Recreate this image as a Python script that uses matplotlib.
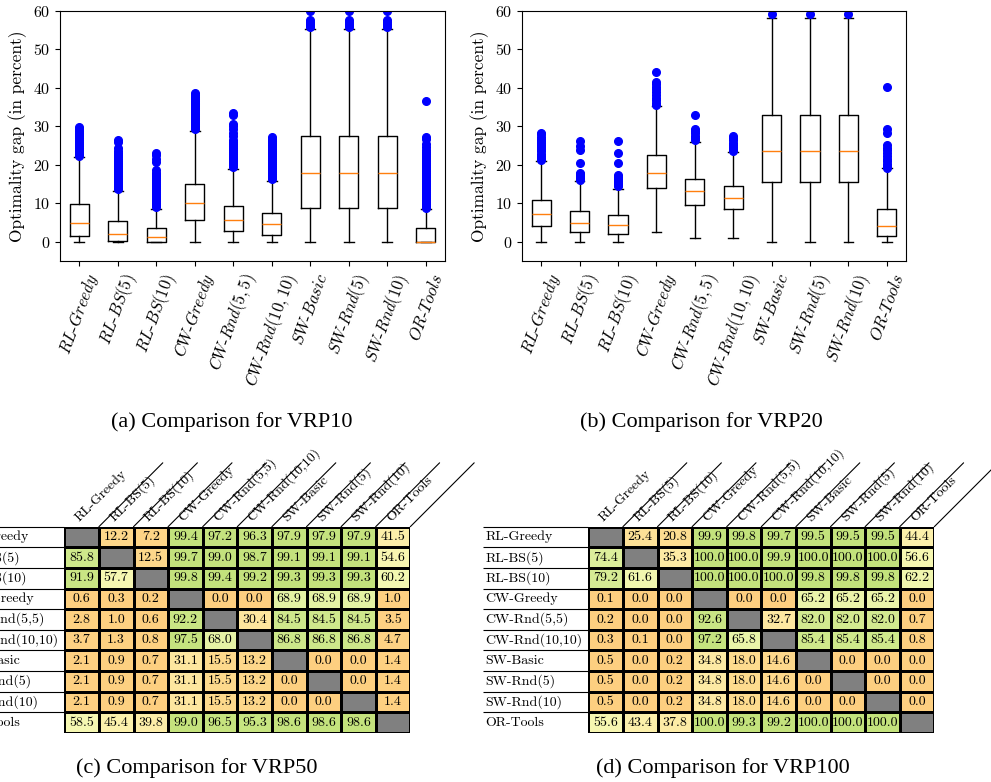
import numpy as np
import matplotlib.pyplot as plt
from matplotlib.colors import LinearSegmentedColormap

plt.rcParams['font.family'] = 'cmr10'
plt.rcParams['mathtext.fontset'] = 'cm'
plt.rcParams['axes.formatter.use_mathtext'] = True
plt.rcParams['axes.unicode_minus'] = False

methods = ['RL-Greedy', 'RL-BS(5)', 'RL-BS(10)', 'CW-Greedy', 'CW-Rnd(5,5)',
           'CW-Rnd(10,10)', 'SW-Basic', 'SW-Rnd(5)', 'SW-Rnd(10)', 'OR-Tools']

# box statistics for VRP10
vrp10_q1 = [1.4, 0.3, 0.05, 5.7, 2.9, 1.8, 8.8, 8.8, 8.8, 0.0]
vrp10_med = [4.9, 2.1, 1.3, 10.0, 5.6, 4.5, 17.9, 17.9, 17.9, 0.0]
vrp10_q3 = [9.8, 5.5, 3.7, 15.0, 9.4, 7.6, 27.6, 27.6, 27.6, 3.5]
vrp10_lo = [0.0, 0.0, 0.0, 0.0, 0.0, 0.0, 0.0, 0.0, 0.0, 0.0]
vrp10_hi = [22.0, 13.1, 8.5, 28.8, 18.9, 15.9, 55.4, 55.4, 55.4, 8.5]
sw10_out = [55.8, 56.2, 56.7, 57.2, 57.6, 60.0, 61.5, 64.0]
vrp10_out = [
    [22.4, 22.9, 23.4, 23.9, 24.4, 24.9, 25.4, 25.9, 26.4, 26.9, 27.4, 27.9, 28.4, 28.9, 29.4, 29.9],
    [13.6, 14.1, 14.6, 15.1, 15.6, 16.1, 16.6, 17.1, 17.6, 18.1, 18.6, 19.1, 19.6, 20.1, 20.6,
     21.1, 21.6, 22.1, 22.6, 23.1, 23.6, 24.4, 25.9, 26.4],
    [9.0, 9.5, 10.0, 10.5, 11.0, 11.5, 12.0, 12.5, 13.0, 13.5, 14.0, 14.5, 15.0, 15.5, 16.0,
     16.5, 17.0, 17.5, 18.0, 18.6, 20.8, 21.4, 22.6, 23.2],
    [29.2, 29.7, 30.2, 30.7, 31.2, 31.7, 32.2, 32.7, 33.2, 33.7, 34.2, 34.7, 35.2, 35.7, 36.2,
     36.7, 37.2, 37.7, 38.2, 38.7],
    [19.4, 19.9, 20.4, 20.9, 21.4, 21.9, 22.4, 22.9, 23.4, 23.9, 24.4, 24.9, 25.4, 25.9, 26.5,
     27.5, 28.2, 29.2, 30.0, 30.5, 33.0, 33.6],
    [16.2, 16.7, 17.2, 17.7, 18.2, 18.7, 19.2, 19.7, 20.2, 20.7, 21.2, 21.7, 22.2, 22.7, 23.2,
     23.7, 24.2, 24.7, 25.2, 25.7, 26.2, 26.7, 27.2],
    sw10_out, sw10_out, sw10_out,
    [8.9, 9.4, 9.9, 10.4, 10.9, 11.4, 11.9, 12.4, 12.9, 13.4, 13.9, 14.4, 14.9, 15.4, 15.9,
     16.4, 16.9, 17.4, 17.9, 18.4, 18.9, 19.4, 19.9, 20.4, 20.9, 21.4, 21.9, 22.4, 22.9, 23.4,
     23.9, 24.6, 25.3, 26.8, 27.3, 36.6],
]

# box statistics for VRP20
vrp20_q1 = [4.2, 2.6, 2.0, 14.0, 9.6, 8.5, 15.6, 15.6, 15.6, 1.4]
vrp20_med = [7.2, 5.0, 4.3, 18.0, 13.1, 11.5, 23.6, 23.6, 23.6, 4.2]
vrp20_q3 = [10.9, 7.9, 6.9, 22.6, 16.2, 14.6, 32.9, 32.9, 32.9, 8.4]
vrp20_lo = [0.0, 0.0, 0.0, 2.6, 0.9, 1.1, 0.0, 0.0, 0.0, 0.0]
vrp20_hi = [20.9, 15.9, 13.7, 35.4, 26.0, 23.3, 58.2, 58.2, 58.2, 19.1]
sw20_out = [59.3, 61.0, 65.0]
vrp20_out = [
    [21.3, 21.8, 22.4, 22.9, 23.5, 24.0, 24.6, 25.1, 25.7, 26.2, 26.8, 27.3, 27.9, 28.3],
    [16.1, 16.6, 17.1, 17.6, 18.0, 20.5, 23.8, 24.9, 26.2],
    [14.4, 14.8, 15.3, 15.8, 16.3, 16.8, 17.3, 20.5, 23.0, 26.3],
    [35.6, 36.2, 36.8, 37.5, 38.2, 38.9, 39.6, 40.3, 41.0, 41.6, 44.1],
    [26.4, 27.0, 27.6, 28.2, 28.8, 29.3, 32.9],
    [23.6, 24.1, 24.6, 25.1, 25.8, 26.4, 27.0, 27.6],
    sw20_out, sw20_out, sw20_out,
    [19.3, 19.8, 20.3, 20.9, 21.5, 22.2, 23.0, 23.8, 24.5, 25.1, 28.4, 29.2, 40.3],
]

nan = np.nan
# pairwise comparison tables (percent), row method vs column method
vrp50_table = [
    [nan, 12.2, 7.2, 99.4, 97.2, 96.3, 97.9, 97.9, 97.9, 41.5],
    [85.8, nan, 12.5, 99.7, 99.0, 98.7, 99.1, 99.1, 99.1, 54.6],
    [91.9, 57.7, nan, 99.8, 99.4, 99.2, 99.3, 99.3, 99.3, 60.2],
    [0.6, 0.3, 0.2, nan, 0.0, 0.0, 68.9, 68.9, 68.9, 1.0],
    [2.8, 1.0, 0.6, 92.2, nan, 30.4, 84.5, 84.5, 84.5, 3.5],
    [3.7, 1.3, 0.8, 97.5, 68.0, nan, 86.8, 86.8, 86.8, 4.7],
    [2.1, 0.9, 0.7, 31.1, 15.5, 13.2, nan, 0.0, 0.0, 1.4],
    [2.1, 0.9, 0.7, 31.1, 15.5, 13.2, 0.0, nan, 0.0, 1.4],
    [2.1, 0.9, 0.7, 31.1, 15.5, 13.2, 0.0, 0.0, nan, 1.4],
    [58.5, 45.4, 39.8, 99.0, 96.5, 95.3, 98.6, 98.6, 98.6, nan],
]
vrp100_table = [
    [nan, 25.4, 20.8, 99.9, 99.8, 99.7, 99.5, 99.5, 99.5, 44.4],
    [74.4, nan, 35.3, 100.0, 100.0, 99.9, 100.0, 100.0, 100.0, 56.6],
    [79.2, 61.6, nan, 100.0, 100.0, 100.0, 99.8, 99.8, 99.8, 62.2],
    [0.1, 0.0, 0.0, nan, 0.0, 0.0, 65.2, 65.2, 65.2, 0.0],
    [0.2, 0.0, 0.0, 92.6, nan, 32.7, 82.0, 82.0, 82.0, 0.7],
    [0.3, 0.1, 0.0, 97.2, 65.8, nan, 85.4, 85.4, 85.4, 0.8],
    [0.5, 0.0, 0.2, 34.8, 18.0, 14.6, nan, 0.0, 0.0, 0.0],
    [0.5, 0.0, 0.2, 34.8, 18.0, 14.6, 0.0, nan, 0.0, 0.0],
    [0.5, 0.0, 0.2, 34.8, 18.0, 14.6, 0.0, 0.0, nan, 0.0],
    [55.6, 43.4, 37.8, 100.0, 99.3, 99.2, 100.0, 100.0, 100.0, nan],
]

cmap = LinearSegmentedColormap.from_list('cmp', [
    (0.00, '#fdcf80'), (0.20, '#fddc90'), (0.35, '#fdeaa4'), (0.50, '#fbf4b0'),
    (0.60, '#f4f8b2'), (0.70, '#e2f1a2'), (0.85, '#cfe88c'), (1.00, '#c3e27c')])
cmap.set_bad('#808080')


def tick_label(name):
    a, b = name.split('-')
    return '$' + a + '$-$' + b + '$'


def draw_boxes(ax, q1, med, q3, lo, hi, out):
    stats = [dict(q1=q1[i], med=med[i], q3=q3[i], whislo=lo[i], whishi=hi[i], fliers=out[i])
             for i in range(len(methods))]
    ax.bxp(stats, widths=0.5,
           boxprops=dict(color='k', lw=1),
           whiskerprops=dict(color='k', lw=1),
           capprops=dict(color='k', lw=1),
           medianprops=dict(color='#ff7f0e', lw=1),
           flierprops=dict(marker='o', markerfacecolor='b', markeredgecolor='b', markersize=5.5))
    ax.set_ylim(-5, 60)
    ax.set_yticks(range(0, 61, 10))
    ax.set_xticks(range(1, 11))
    ax.set_xticklabels([tick_label(m) for m in methods], rotation=70, fontsize=12)
    ax.tick_params(axis='y', labelsize=11.5)
    ax.set_ylabel('Optimality gap (in percent)', fontsize=12.5)


def draw_table(ax, table):
    data = np.ma.masked_invalid(np.array(table))
    ax.pcolormesh(np.arange(11), np.arange(11), data, cmap=cmap, vmin=0, vmax=100,
                  edgecolors='k', linewidth=0.8)
    ax.set_xlim(0, 10)
    ax.set_ylim(10, 0)
    ax.axis('off')
    for i in range(10):
        for j in range(10):
            if not np.isnan(table[i][j]):
                ax.text(j + 0.5, i + 0.5, f'{table[i][j]:.1f}', ha='center', va='center',
                        fontsize=10)
    ax.hlines(range(10), -3.03, 0, color='k', lw=0.8, clip_on=False)
    for i, m in enumerate(methods):
        ax.text(-2.98, i + 0.5, m, ha='left', va='center', fontsize=10, clip_on=False)
    for j, m in enumerate(methods):
        ax.annotate(m, xy=(j + 0.5, 0), xytext=(0, 2), textcoords='offset points',
                    rotation=45, rotation_mode='anchor', ha='left', va='bottom',
                    fontsize=10, annotation_clip=False)
        ax.annotate('', xy=(j + 1, 0), xytext=(46, 46), textcoords='offset points',
                    arrowprops=dict(arrowstyle='-', lw=0.8, color='k', shrinkA=0, shrinkB=0),
                    annotation_clip=False)


fig = plt.figure(figsize=(9.91, 7.82), dpi=100)

ax_a = fig.add_axes([60 / 991, 1 - 261 / 782, 385 / 991, 250 / 782])
draw_boxes(ax_a, vrp10_q1, vrp10_med, vrp10_q3, vrp10_lo, vrp10_hi, vrp10_out)
ax_b = fig.add_axes([522 / 991, 1 - 261 / 782, 384 / 991, 250 / 782])
draw_boxes(ax_b, vrp20_q1, vrp20_med, vrp20_q3, vrp20_lo, vrp20_hi, vrp20_out)

ax_c = fig.add_axes([64.3 / 991, 1 - 733 / 782, 346 / 991, 206.3 / 782])
draw_table(ax_c, vrp50_table)
ax_d = fig.add_axes([588.3 / 991, 1 - 733 / 782, 346 / 991, 206.3 / 782])
draw_table(ax_d, vrp100_table)

cap = dict(ha='center', va='center', fontsize=16, family='Liberation Serif')
fig.text(232 / 991, 1 - 422 / 782, '(a) Comparison for VRP10', **cap)
fig.text(701 / 991, 1 - 422 / 782, '(b) Comparison for VRP20', **cap)
fig.text(197 / 991, 1 - 768 / 782, '(c) Comparison for VRP50', **cap)
fig.text(723 / 991, 1 - 768 / 782, '(d) Comparison for VRP100', **cap)

fig.savefig('out.png', dpi=100)
